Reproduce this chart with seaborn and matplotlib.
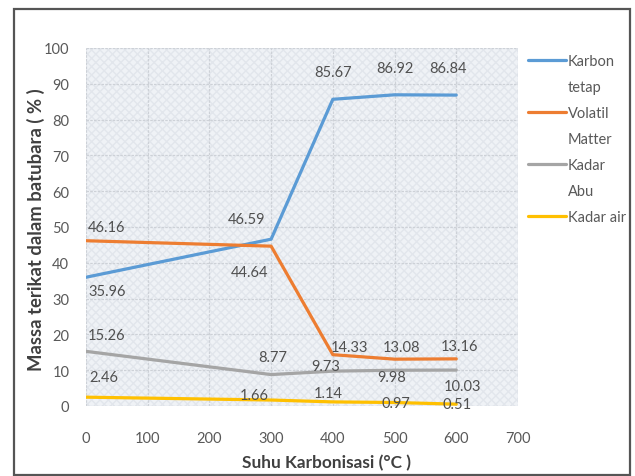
import pandas as pd
import matplotlib.pyplot as plt
import matplotlib.patches as mpatches
from matplotlib.lines import Line2D
import seaborn as sns

suhu = [0, 300, 400, 500, 600]
karbon_tetap = [35.96, 46.59, 85.67, 86.92, 86.84]
volatil_matter = [46.16, 44.64, 14.33, 13.08, 13.16]
kadar_abu = [15.26, 8.77, 9.73, 9.98, 10.03]
kadar_air = [2.46, 1.66, 1.14, 0.97, 0.51]
series_names = ["Karbon tetap", "Volatil Matter", "Kadar Abu", "Kadar air"]
colors = ["#5b9bd5", "#ed7d31", "#a5a5a5", "#ffc000"]

rows = []
for name, vals in zip(series_names, [karbon_tetap, volatil_matter, kadar_abu, kadar_air]):
    for x, y in zip(suhu, vals):
        rows.append({"Suhu": x, "Massa": y, "Seri": name})
df = pd.DataFrame(rows)

# label offsets (pixels) per series, per point
offsets = [
    [(21, -14), (-25, 20), (0, 27), (0, 27), (-8, 27)],
    [(21, 14), (-22, -26), (17, 8), (7, 12), (3, 13)],
    [(21, 16), (2, 18), (-7, 5), (-3, -7), (6, -16)],
    [(18, 20), (-17, 5), (-5, 9), (1, 0), (1, 0)],
]

sns.set_style("white")
plt.rcParams["font.family"] = ["Lato", "DejaVu Sans"]

fig = plt.figure(figsize=(6.35, 4.77), dpi=100)
ax = fig.add_axes([0.1354, 0.1468, 0.6803, 0.7505])

ax.set_facecolor("#eff2f6")
bg = mpatches.Rectangle((0, 0), 1, 1, transform=ax.transAxes, facecolor="none",
                        edgecolor="#e2e6ec", hatch="xxxx", lw=0, zorder=0)
ax.add_patch(bg)

sns.lineplot(data=df, x="Suhu", y="Massa", hue="Seri", palette=colors,
             linewidth=2.3, ax=ax, legend=False, zorder=3)

for i, name in enumerate(series_names):
    sub = df[df["Seri"] == name]
    for j, (x, y) in enumerate(zip(sub["Suhu"], sub["Massa"])):
        ax.annotate(f"{y:.2f}", (x, y), xytext=offsets[i][j], textcoords="offset pixels",
                    ha="center", va="center", fontsize=10.5, color="#505050", zorder=4)

ax.set_xlim(0, 700)
ax.set_ylim(0, 100)
ax.set_xticks(range(0, 701, 100))
ax.set_yticks(range(0, 101, 10))
ax.grid(True, color="#cdd1d7", lw=0.9, ls=(0, (2, 1)))
ax.set_axisbelow(True)
for s in ax.spines.values():
    s.set_visible(False)
ax.tick_params(axis="both", length=0, labelsize=10.5, labelcolor="#595959")
ax.tick_params(axis="x", pad=18)
ax.tick_params(axis="y", pad=12)

ax.set_xlabel("Suhu Karbonisasi (°C )", fontsize=12.4, fontweight="bold", color="#404040")
ax.xaxis.set_label_coords(0.557, -0.135)
ax.set_ylabel("Massa terikat dalam batubara ( % )", fontsize=13.3, fontweight="bold",
              color="#404040")
ax.yaxis.set_label_coords(-0.094, 0.495)

handles = []
labels = []
for name, c in zip(series_names, colors):
    parts = name.split(" ")
    if name == "Kadar air":
        handles.append(Line2D([], [], color=c, lw=2.3))
        labels.append(name)
    else:
        handles.append(Line2D([], [], color=c, lw=2.3))
        labels.append(parts[0])
        handles.append(Line2D([], [], color="none"))
        labels.append(parts[1])
leg = fig.legend(handles, labels, loc="upper left", bbox_to_anchor=(0.823, 0.897),
                 frameon=False, fontsize=10.5, handlelength=2.6, handletextpad=0.1,
                 labelspacing=0.82, borderaxespad=0)
for t in leg.get_texts():
    t.set_color("#595959")

frame = mpatches.Rectangle((14 / 635, 1 / 477), 616 / 635, 466 / 477, transform=fig.transFigure,
                           facecolor="none", edgecolor="#555555", lw=1.6)
fig.add_artist(frame)

plt.savefig("out.png", dpi=100)
